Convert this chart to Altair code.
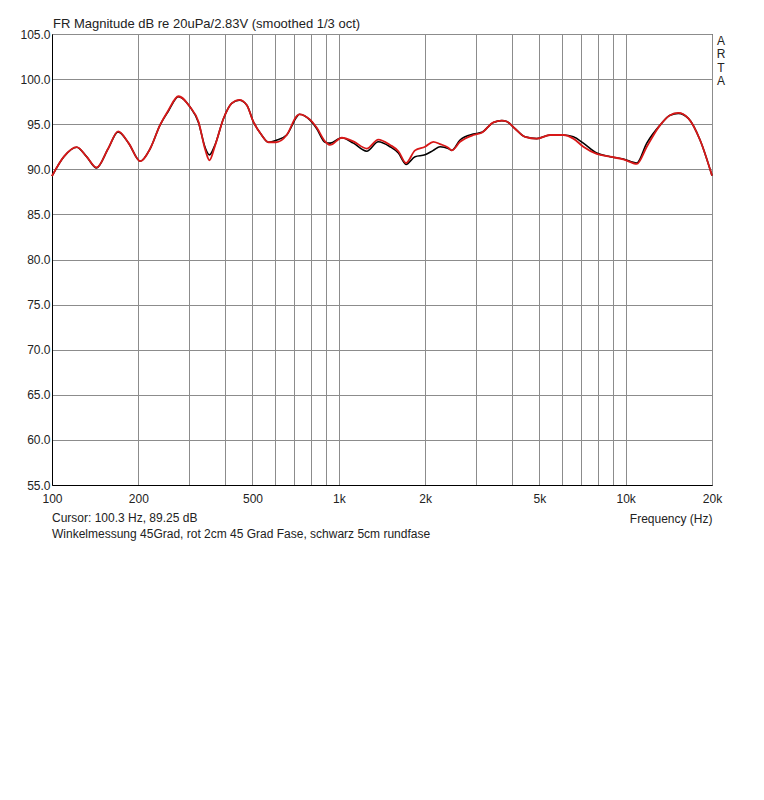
import pandas as pd
import altair as alt

# frequency points (Hz)
freq = [100, 110, 122, 132, 143, 157, 170, 185, 203, 220, 238, 254, 276, 303,
        324, 342, 354, 370, 396, 423, 450, 478, 503, 538, 568, 604, 658, 713,
        728, 794, 838, 895, 932, 1024, 1124, 1251, 1373, 1509, 1613, 1715,
        1844, 1998, 2135, 2254, 2408, 2476, 2646, 2944, 3150, 3458, 3700, 3849,
        4116, 4459, 4898, 5451, 6065, 6571, 7121, 7928, 8822, 9817, 10933,
        11847, 13183, 14284, 15266, 16545, 18170, 20000]

# schwarz: 5cm rundfase
black_db = [89.25, 91.4, 92.45, 91.4, 90.15, 92.3, 94.15, 92.9, 90.9, 92.3,
            94.9, 96.4, 98.05, 96.9, 95.2, 92.4, 91.6, 92.7, 95.6, 97.3,
            97.65, 97.1, 95.3, 93.8, 93.0, 93.2, 93.8, 95.8, 96.1, 95.45,
            94.5, 93.0, 92.9, 93.5, 92.9, 92.0, 93.05, 92.5, 91.8, 90.55,
            91.4, 91.6, 92.1, 92.5, 92.3, 92.1, 93.25, 93.9, 94.1, 95.2, 95.4,
            95.3, 94.5, 93.6, 93.4, 93.8, 93.8, 93.6, 92.9, 91.8, 91.4,
            91.15, 90.7, 92.9, 94.9, 96.0, 96.2, 95.65, 93.25, 89.3]

# rot: 2cm 45 Grad Fase
red_db = [89.25, 91.4, 92.45, 91.4, 90.2, 92.3, 94.2, 92.9, 90.9, 92.3,
          94.9, 96.5, 98.1, 96.9, 95.3, 92.2, 91.0, 92.6, 95.6, 97.3,
          97.7, 97.1, 95.3, 93.8, 93.0, 93.0, 93.8, 95.9, 96.1, 95.5,
          94.6, 93.1, 92.7, 93.5, 93.1, 92.3, 93.3, 92.7, 92.0, 90.7,
          92.1, 92.5, 93.05, 92.8, 92.4, 92.1, 93.05, 93.8, 94.05, 95.2, 95.4,
          95.3, 94.5, 93.6, 93.4, 93.8, 93.8, 93.4, 92.5, 91.7, 91.4,
          91.1, 90.6, 92.5, 94.9, 96.0, 96.25, 95.65, 93.25, 89.3]

grid_freqs = [100, 200, 300, 400, 500, 600, 700, 800, 900,
              1000, 2000, 3000, 4000, 5000, 6000, 7000, 8000, 9000,
              10000, 20000]
label_freqs = [100, 200, 500, 1000, 2000, 5000, 10000, 20000]
db_ticks = [55, 60, 65, 70, 75, 80, 85, 90, 95, 100, 105]

n = len(freq)
df = pd.DataFrame({
    "freq": freq * 2,
    "db": black_db + red_db,
    "curve": ["schwarz"] * n + ["rot"] * n,
})

FONT = "Liberation Sans"
W, H = 660, 451

label_expr = (
    "indexof([" + ",".join(str(v) for v in label_freqs) + "], datum.value) < 0 ? '' : "
    "(datum.value >= 1000 ? (datum.value / 1000) + 'k' : datum.value + '')"
)

x_enc = alt.X(
    "freq:Q",
    scale=alt.Scale(type="log", domain=[100, 20000], nice=False),
    axis=alt.Axis(values=grid_freqs, labelExpr=label_expr, title="Frequency (Hz)",
                  titleAnchor="end", titleAlign="right", titleFontWeight="normal",
                  titlePadding=9, labelPadding=8, labelFlush=False),
)
y_enc = alt.Y(
    "db:Q",
    scale=alt.Scale(domain=[55, 105], nice=False, zero=False),
    axis=alt.Axis(values=db_ticks, format=".1f", title=None, labelPadding=2),
)

base = alt.Chart(df).encode(x=x_enc, y=y_enc)

black_line = base.transform_filter("datum.curve == 'schwarz'").mark_line(
    color="#000000", strokeWidth=1.6, interpolate="monotone")
red_line = base.transform_filter("datum.curve == 'rot'").mark_line(
    color="#d81818", strokeWidth=1.8, interpolate="monotone")

notes = pd.DataFrame({
    "txt": ["FR Magnitude dB re 20uPa/2.83V (smoothed 1/3 oct)",
            "Cursor: 100.3 Hz, 89.25 dB",
            "Winkelmessung 45Grad, rot 2cm 45 Grad Fase, schwarz 5cm rundfase"],
    "px": [1, 0, 0],
    "py": [-6, 488, 504],
    "size": [13, 12, 12],
})
note_text = alt.Chart(notes).mark_text(
    align="left", baseline="alphabetic", font=FONT, color="#222222"
).encode(
    x=alt.X("px:Q", scale=None),
    y=alt.Y("py:Q", scale=None),
    text="txt:N",
    size=alt.Size("size:Q", scale=None, legend=None),
)

arta = alt.Chart(pd.DataFrame({"t": ["A\nR\nT\nA"]})).mark_text(
    align="center", baseline="top", font=FONT, fontSize=12, lineBreak="\n",
    lineHeight=13.3, color="#222222"
).encode(x=alt.value(W + 9), y=alt.value(2), text="t:N")

chart = (
    alt.layer(black_line, red_line, note_text, arta)
    .properties(width=W, height=H,
                autosize=alt.AutoSizeParams(type="none"),
                padding={"left": 44, "top": 26, "right": 44, "bottom": 90})
    .configure_view(stroke="#000000", strokeWidth=1)
    .configure_axis(labelFont=FONT, titleFont=FONT, labelFontSize=12, titleFontSize=12,
                    labelColor="#222222", titleColor="#222222",
                    gridColor="#8c8c8c", gridWidth=1, gridOpacity=1,
                    domainColor="#000000", tickSize=0)
)

chart.save("out.html", embed_options={"renderer": "svg", "actions": False})
